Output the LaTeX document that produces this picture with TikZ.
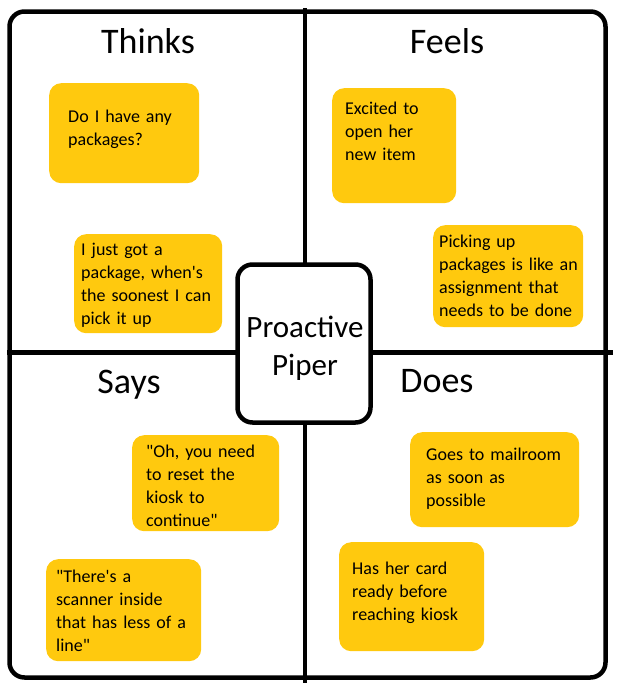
\documentclass[tikz,border=0pt]{standalone}
\usepackage{fontspec}
\setmainfont{Carlito}
\definecolor{sticky}{HTML}{FFC90E}
\begin{document}
\begin{tikzpicture}[x=1pt,y=-1pt,
  frame/.style={line width=4.5pt},
  note/.style={fill=sticky, rounded corners=12pt, anchor=north west, inner sep=0pt},
  notetext/.style={anchor=base west, inner sep=0pt, text width=200pt, align=left, font=\fontsize{18}{23}\selectfont},
  heading/.style={anchor=base, inner sep=0pt, font=\fontsize{36}{43}\selectfont}]
\useasboundingbox (0,0) rectangle (616,688);
% frame and quadrant lines
\draw[frame, rounded corners=15pt] (9.5,11.5) rectangle (605.5,677.5);
\coordinate (vtop) at (305,8);
\coordinate (vbot) at (305,683);
\coordinate (hleft) at (7,352.5);
\coordinate (hright) at (613,352.5);
\draw[frame] (vtop) -- (vbot);
\draw[frame] (hleft) -- (hright);
% center persona box
\node[draw, frame, fill=white, rounded corners=15pt, minimum width=133pt, minimum height=158pt, inner sep=0pt] (persona) at (304,343.5) {};
\node[anchor=base, inner sep=0pt, text width=130pt, align=center, font=\fontsize{31}{38}\selectfont] (personaname) at (305,337) {Proactive\\Piper};
% headings
\node[heading] (thinks) at (148,53) {Thinks};
\node[heading] (feels) at (447,53) {Feels};
\node[heading] (says) at (129,393) {Says};
\node[heading] (does) at (437,392) {Does};
% sticky notes
\node[note, minimum width=150pt, minimum height=100pt] (n1) at (49,83) {};
\node[notetext] (t1) at (68,122.5) {Do I have any\\packages?};
\node[note, minimum width=148pt, minimum height=99pt] (n2) at (74,234) {};
\node[notetext] (t2) at (81,255) {I just got a\\package, when\textquotesingle s\\the soonest I can\\pick it up};
\node[note, minimum width=124pt, minimum height=115pt] (n3) at (332,88) {};
\node[notetext] (t3) at (345,114.3) {Excited to\\open her\\new item};
\node[note, minimum width=150pt, minimum height=102pt] (n4) at (433,225) {};
\node[notetext] (t4) at (439,247) {Picking up\\packages is like an\\assignment that\\needs to be done};
\node[note, minimum width=147pt, minimum height=96pt] (n5) at (132,435) {};
\node[notetext] (t5) at (146,457) {\textquotedbl Oh, you need\\to reset the\\kiosk to\\continue\textquotedbl};
\node[note, minimum width=155pt, minimum height=102pt] (n6) at (46,559) {};
\node[notetext] (t6) at (56,582.7) {\textquotedbl There\textquotesingle s a\\scanner inside\\that has less of a\\line\textquotedbl};
\node[note, minimum width=169pt, minimum height=95pt] (n7) at (410,432) {};
\node[notetext] (t7) at (426,460.7) {Goes to mailroom\\as soon as\\possible};
\node[note, minimum width=145pt, minimum height=109pt] (n8) at (339,542) {};
\node[notetext] (t8) at (352,574) {Has her card\\ready before\\reaching kiosk};
\end{tikzpicture}
\end{document}
